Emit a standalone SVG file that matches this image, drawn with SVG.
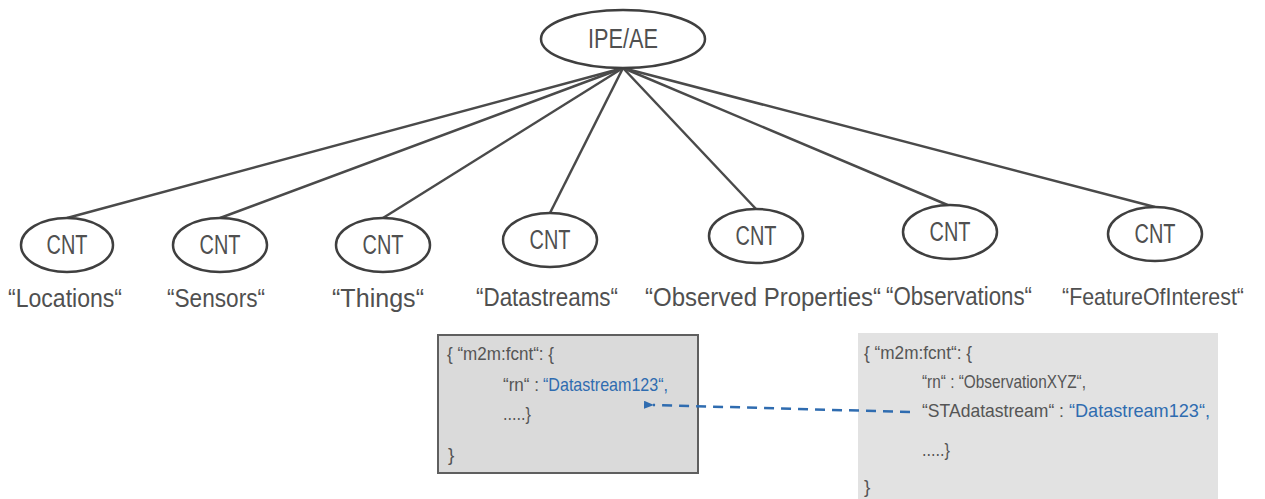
<svg xmlns="http://www.w3.org/2000/svg" width="1265" height="499" viewBox="0 0 1265 499">
  <style>
    .node ellipse { fill: #ffffff; stroke: #3f3f3f; stroke-width: 2.5; }
    .node text { font-family: "Liberation Sans", Arial, sans-serif; fill: #505050; text-anchor: middle; }
    .name { font-size: 27px; }
    .label { font-size: 25px; }
    .edge { stroke: #4a4a4a; stroke-width: 2.5; fill: none; }
    .code { font-family: "Liberation Sans", Arial, sans-serif; font-size: 19px; fill: #555555; }
    .ref { fill: #2f6cb0; }
    .link { stroke: #2f6cb0; stroke-width: 2.5; stroke-dasharray: 10 7; fill: none; }
  </style>
  <defs>
    <marker id="arrowhead" markerWidth="10" markerHeight="8" refX="1" refY="4" orient="auto" markerUnits="userSpaceOnUse">
      <path d="M0,4 L10,0 L10,8 Z" fill="#2f6cb0"/>
    </marker>
  </defs>

  <rect width="1265" height="499" fill="#ffffff"/>

  <!-- tree connectors from the application entity to each container -->
  <g id="connectors">
    <line class="edge" x1="623" y1="68" x2="67" y2="218"/>
    <line class="edge" x1="623" y1="68" x2="220" y2="218"/>
    <line class="edge" x1="623" y1="68" x2="383" y2="218"/>
    <line class="edge" x1="623" y1="68" x2="550" y2="213"/>
    <line class="edge" x1="623" y1="68" x2="756" y2="209"/>
    <line class="edge" x1="623" y1="68" x2="950" y2="206"/>
    <line class="edge" x1="623" y1="68" x2="1155" y2="207"/>
  </g>

  <g id="ipe-ae" class="node">
    <ellipse cx="623" cy="39" rx="82" ry="29"/>
    <text class="name" x="623" y="48" textLength="70" lengthAdjust="spacingAndGlyphs">IPE/AE</text>
  </g>

  <g id="cnt-locations" class="node">
    <ellipse cx="67" cy="245" rx="46" ry="27"/>
    <text class="name" x="67" y="254" textLength="41" lengthAdjust="spacingAndGlyphs">CNT</text>
    <text class="label" x="65" y="307" textLength="114" lengthAdjust="spacingAndGlyphs">“Locations“</text>
  </g>

  <g id="cnt-sensors" class="node">
    <ellipse cx="220" cy="245" rx="47" ry="27"/>
    <text class="name" x="220" y="254" textLength="41" lengthAdjust="spacingAndGlyphs">CNT</text>
    <text class="label" x="216" y="307" textLength="98" lengthAdjust="spacingAndGlyphs">“Sensors“</text>
  </g>

  <g id="cnt-things" class="node">
    <ellipse cx="383" cy="245" rx="47" ry="27"/>
    <text class="name" x="383" y="254" textLength="41" lengthAdjust="spacingAndGlyphs">CNT</text>
    <text class="label" x="378" y="307" textLength="92" lengthAdjust="spacingAndGlyphs">“Things“</text>
  </g>

  <g id="cnt-datastreams" class="node">
    <ellipse cx="550" cy="240" rx="47" ry="27"/>
    <text class="name" x="550" y="249" textLength="41" lengthAdjust="spacingAndGlyphs">CNT</text>
    <text class="label" x="547" y="306" textLength="142" lengthAdjust="spacingAndGlyphs">“Datastreams“</text>
  </g>

  <g id="cnt-observed-properties" class="node">
    <ellipse cx="756" cy="236" rx="47" ry="27"/>
    <text class="name" x="756" y="245" textLength="41" lengthAdjust="spacingAndGlyphs">CNT</text>
    <text class="label" x="763" y="306" textLength="236" lengthAdjust="spacingAndGlyphs">“Observed Properties“</text>
  </g>

  <g id="cnt-observations" class="node">
    <ellipse cx="950" cy="232" rx="47" ry="27"/>
    <text class="name" x="950" y="241" textLength="41" lengthAdjust="spacingAndGlyphs">CNT</text>
    <text class="label" x="959" y="305" textLength="146" lengthAdjust="spacingAndGlyphs">“Observations“</text>
  </g>

  <g id="cnt-feature-of-interest" class="node">
    <ellipse cx="1155" cy="234" rx="47" ry="27"/>
    <text class="name" x="1155" y="243" textLength="41" lengthAdjust="spacingAndGlyphs">CNT</text>
    <text class="label" x="1153" y="305" style="font-size:24px" textLength="182" lengthAdjust="spacingAndGlyphs">“FeatureOfInterest“</text>
  </g>

  <!-- content instance of the Datastreams container -->
  <g id="datastream-instance">
    <rect x="438" y="335" width="260" height="138" fill="#dadada" stroke="#5f5f5f" stroke-width="2"/>
    <text class="code" x="447" y="360" textLength="107" lengthAdjust="spacingAndGlyphs">{ “m2m:fcnt“: {</text>
    <text class="code" x="503" y="391" textLength="36" lengthAdjust="spacingAndGlyphs">“rn“ :</text>
    <text class="code ref" x="543" y="391" textLength="125" lengthAdjust="spacingAndGlyphs">“Datastream123“,</text>
    <text class="code" x="503" y="420" textLength="28" lengthAdjust="spacingAndGlyphs">.....}</text>
    <text class="code" x="448" y="461">}</text>
  </g>

  <!-- content instance of the Observations container -->
  <g id="observation-instance">
    <rect x="858" y="333" width="360" height="170" fill="#e2e2e2"/>
    <text class="code" x="864" y="359" textLength="108" lengthAdjust="spacingAndGlyphs">{ “m2m:fcnt“: {</text>
    <text class="code" x="922" y="388" textLength="164" lengthAdjust="spacingAndGlyphs">“rn“ : “ObservationXYZ“,</text>
    <text class="code" x="922" y="417" textLength="142" lengthAdjust="spacingAndGlyphs">“STAdatastream“ :</text>
    <text class="code ref" x="1069" y="417" textLength="141" lengthAdjust="spacingAndGlyphs">“Datastream123“,</text>
    <text class="code" x="922" y="456" textLength="28" lengthAdjust="spacingAndGlyphs">.....}</text>
    <text class="code" x="864" y="493">}</text>
  </g>

  <!-- reference from the observation to its datastream -->
  <g id="reference-link">
    <line class="link" x1="910" y1="412" x2="653" y2="405" marker-end="url(#arrowhead)"/>
  </g>
</svg>
